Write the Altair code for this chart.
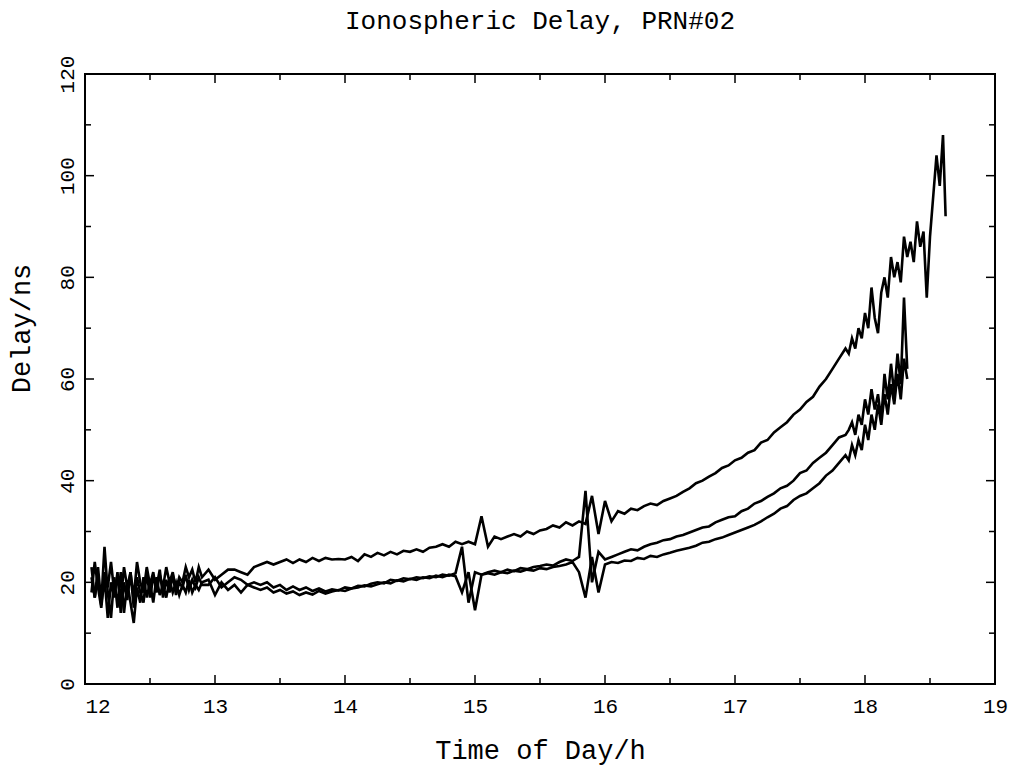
import altair as alt
import pandas as pd

# ---------------- data ----------------
# time grids (hours): finer where the record is noisy
T_EARLY = [
    12.050, 12.075, 12.100, 12.125, 12.150, 12.175, 12.200, 12.225, 12.250, 12.275,
    12.300, 12.325, 12.350, 12.375, 12.400, 12.425, 12.450, 12.475, 12.500, 12.525,
    12.550, 12.575, 12.600, 12.625, 12.650, 12.675, 12.700, 12.725, 12.750, 12.775,
    12.800, 12.825, 12.850, 12.875, 12.900,
]
T_MID = [
    12.95, 13.00,
    13.05, 13.10, 13.15, 13.20, 13.25, 13.30, 13.35, 13.40, 13.45, 13.50,
    13.55, 13.60, 13.65, 13.70, 13.75, 13.80, 13.85, 13.90, 13.95, 14.00,
    14.05, 14.10, 14.15, 14.20, 14.25, 14.30, 14.35, 14.40, 14.45, 14.50,
    14.55, 14.60, 14.65, 14.70, 14.75, 14.80, 14.85, 14.90, 14.95, 15.00,
    15.05, 15.10, 15.15, 15.20, 15.25, 15.30, 15.35, 15.40, 15.45, 15.50,
    15.55, 15.60, 15.65, 15.70, 15.75, 15.80, 15.85, 15.90, 15.95, 16.00,
    16.05, 16.10, 16.15, 16.20, 16.25, 16.30, 16.35, 16.40, 16.45, 16.50,
    16.55, 16.60, 16.65, 16.70, 16.75, 16.80, 16.85, 16.90, 16.95, 17.00,
    17.05, 17.10, 17.15, 17.20, 17.25, 17.30, 17.35, 17.40, 17.45, 17.50,
    17.55, 17.60, 17.65, 17.70, 17.75, 17.80, 17.85,
]
T_LATE_A = [
    17.875, 17.900, 17.925, 17.950, 17.975, 18.000, 18.025, 18.050, 18.075, 18.100,
    18.125, 18.150, 18.175, 18.200, 18.225, 18.250, 18.275, 18.300, 18.325, 18.350,
    18.375, 18.400, 18.425, 18.450, 18.475, 18.500, 18.525, 18.550, 18.575, 18.600,
    18.620,
]
T_LATE_BC = [
    17.875, 17.900, 17.925, 17.950, 17.975, 18.000, 18.025, 18.050, 18.075, 18.100,
    18.125, 18.150, 18.175, 18.200, 18.225, 18.250, 18.275, 18.300, 18.325,
]

# upper curve (longest pass)
A_EARLY = [
    23, 17, 21, 15.5, 22, 19, 24, 18, 21, 16.5,
    23, 19, 22, 17, 24, 20, 18, 23, 19.5, 22,
    18, 21.5, 19, 23, 20, 22, 18.5, 21, 20, 23,
    21, 22.5, 20, 23, 21,
]
A_MID = [
    22.5, 20.5,
    21.5, 22.5, 22.5, 22, 21.5, 23, 23.5, 24, 23.5, 24,
    24.5, 23.8, 24.5, 24, 24.8, 24.2, 24.8, 24.5, 24.6, 24.5,
    25, 24.2, 25.5, 25, 25.8, 25.3, 26, 25.5, 26.2, 26,
    26.5, 26, 26.8, 27, 27.5, 27, 28, 27.5, 28, 27.5,
    33, 27, 29, 28.5, 29, 29.5, 29, 30, 29.5, 30.2,
    30.5, 31.2, 30.8, 31.8, 31.2, 32, 31.5, 37, 29.5, 36,
    32, 34, 33.5, 34.5, 34.2, 35, 35.5, 35.2, 36, 36.5,
    37, 37.8, 38.5, 39.5, 40, 40.8, 41.5, 42.5, 43, 44,
    44.5, 45.5, 46, 47.5, 48, 49.5, 50.5, 51.5, 53, 54,
    55.5, 56.5, 58.5, 60, 62, 64, 66,
]
A_LATE = [
    65, 68, 66, 70, 68, 73, 70, 78, 72, 69,
    77, 80, 76, 84, 80, 83, 79, 88, 84, 87,
    83, 91, 86, 89, 76, 88, 96, 104, 98, 108,
    92,
]

# middle curve
B_EARLY = [
    18, 24, 19, 15, 21, 13, 20, 17, 22, 14,
    20, 16.5, 22, 15, 21, 18, 16, 22, 17, 21,
    19, 22.5, 17, 20.5, 18, 21.5, 17.5, 20, 19, 21.5,
    18.5, 20.5, 19, 21, 19.5,
]
B_MID = [
    19.5, 21,
    19, 20, 21, 20.5, 19.5, 20, 19.5, 20, 19, 19.5,
    18.5, 19.2, 18.5, 19, 18.3, 18.8, 18.2, 18.6, 18.4, 19,
    18.8, 19.3, 19.2, 19.7, 20, 19.8, 20.5, 20.3, 20.8, 20.6,
    21, 20.8, 21.2, 21, 21.5, 21.3, 21.8, 27, 16, 22,
    21.5, 22, 22.3, 22, 22.5, 22.2, 22.8, 22.6, 23, 23.2,
    23.5, 23.3, 24, 24.5, 24.2, 25, 38, 20, 26, 24.5,
    25, 25.5, 26, 26.5, 26.3, 27, 27.5, 27.8, 28.3, 28.5,
    29, 29.3, 29.8, 30.3, 30.8, 31, 31.8, 32.3, 32.8, 33,
    34, 34.5, 35.5, 36, 36.8, 37.5, 38.5, 39, 40, 41.5,
    42, 43.5, 44.5, 45.5, 47, 48.5, 49,
]
B_LATE = [
    50, 51.5, 49, 53, 51, 56, 53, 58, 54, 57,
    52, 61, 56, 63, 57, 65, 59, 76, 62,
]

# lower curve
C_EARLY = [
    21, 17, 23, 16, 27, 18, 13, 21, 15, 22,
    14, 20, 16, 12, 19, 16, 21, 17, 20, 16,
    21, 17.5, 19.5, 17, 20.5, 18, 20, 17.5, 19.5, 18,
    20.5, 18, 19.5, 18.5, 20,
]
C_MID = [
    20.5, 17.5,
    20, 18.5, 19.5, 18, 19.5, 19, 18.5, 19, 18, 18.5,
    17.8, 18.2, 17.5, 18, 17.6, 18.3, 17.8, 18.2, 18.5, 18.3,
    18.8, 19, 19.4, 19.2, 19.6, 20, 19.8, 20.4, 20.2, 20.7,
    20.5, 21, 20.8, 21.3, 21, 21.5, 21.2, 18, 22, 14.5,
    21.5, 21.8, 21.5, 22, 21.8, 22.3, 22.1, 22.5, 22.3, 22.8,
    22.6, 23, 23.2, 23.5, 24, 22, 17, 25, 18, 23.5,
    24, 23.8, 24.3, 24.2, 24.8, 24.6, 25.2, 25, 25.5, 25.8,
    26.2, 26.5, 26.8, 27.2, 27.8, 28, 28.5, 28.8, 29.3, 29.8,
    30.3, 30.8, 31.3, 32, 32.8, 33.5, 34.5, 35, 36.2, 37,
    37.5, 38.5, 39.5, 41, 42, 43.5, 45,
]
C_LATE = [
    44, 47, 45, 48, 46, 51, 48, 53, 50, 55,
    51, 57, 53, 59, 55, 61, 56, 64, 60,
]

# axis ticks
X_LABELS = [12, 13, 14, 15, 16, 17, 18, 19]
Y_LABELS = [0, 20, 40, 60, 80, 100, 120]
X_MAJOR = [13, 14, 15, 16, 17, 18]
X_MINOR = [12.5, 13.5, 14.5, 15.5, 16.5, 17.5, 18.5]
Y_MAJOR = [20, 40, 60, 80, 100]
Y_MINOR = [10, 30, 50, 70, 90, 110]

TITLE = "Ionospheric Delay, PRN#02"
X_TITLE = "Time of Day/h"
Y_TITLE = "Delay/ns"

# ---------------- build ----------------
W, H = 910, 610
FONT = "Liberation Mono"

series = [
    ("a", T_EARLY + T_MID + T_LATE_A, A_EARLY + A_MID + A_LATE),
    ("b", T_EARLY + T_MID + T_LATE_BC, B_EARLY + B_MID + B_LATE),
    ("c", T_EARLY + T_MID + T_LATE_BC, C_EARLY + C_MID + C_LATE),
]
frames = []
for name, tt, vv in series:
    assert len(tt) == len(vv), (name, len(tt), len(vv))
    frames.append(pd.DataFrame({"t": tt, "v": vv, "s": name}))
df = pd.concat(frames, ignore_index=True)

xscale = alt.Scale(domain=[12, 19], nice=False, zero=False)
yscale = alt.Scale(domain=[0, 120], nice=False, zero=False)

x_axis = alt.Axis(
    values=X_LABELS, format="d", grid=False, ticks=False, tickSize=0, domain=False,
    labelFont=FONT, labelFontSize=21, labelColor="black", labelPadding=11,
    labelFlush=False, labelOverlap=False,
    labelAlign={"condition": {"test": "datum.value == 12", "value": "left"}, "value": "center"},
    titleFont=FONT, titleFontSize=27, titleFontWeight="normal",
    titleColor="black", titlePadding=21,
)
y_axis = alt.Axis(
    values=Y_LABELS, format="d", grid=False, ticks=False, tickSize=0, domain=False,
    labelFont=FONT, labelFontSize=21, labelColor="black", labelPadding=8,
    labelAngle=270, labelAlign="center", labelBaseline="bottom",
    labelFlush=False, labelOverlap=False,
    titleFont=FONT, titleFontSize=27, titleFontWeight="normal",
    titleColor="black", titleAngle=270, titleX=-56, titleY=254,
    titleAlign="center", titleBaseline="alphabetic",
)

X_ENC = dict(field="t", type="quantitative", scale=xscale, axis=x_axis, title=X_TITLE)
Y_ENC = dict(field="v", type="quantitative", scale=yscale, axis=y_axis, title=Y_TITLE)

lines = alt.Chart(df).mark_line(color="black", strokeWidth=2.6).encode(
    x=alt.X(**X_ENC),
    y=alt.Y(**Y_ENC),
    detail="s:N",
)


def xticks(vals, length):
    d = pd.DataFrame({"t": vals})
    bottom = alt.Chart(d).mark_rule(color="black", strokeWidth=1.5).encode(
        x=alt.X(**X_ENC),
        y=alt.value(H), y2=alt.value(H - length),
    )
    top = alt.Chart(d).mark_rule(color="black", strokeWidth=1.5).encode(
        x=alt.X(**X_ENC),
        y=alt.value(0), y2=alt.value(length),
    )
    return [bottom, top]


def yticks(vals, length):
    d = pd.DataFrame({"v": vals})
    left = alt.Chart(d).mark_rule(color="black", strokeWidth=1.5).encode(
        y=alt.Y(**Y_ENC),
        x=alt.value(0), x2=alt.value(length),
    )
    right = alt.Chart(d).mark_rule(color="black", strokeWidth=1.5).encode(
        y=alt.Y(**Y_ENC),
        x=alt.value(W), x2=alt.value(W - length),
    )
    return [left, right]


layers = [lines] + xticks(X_MAJOR, 9) + xticks(X_MINOR, 6) + yticks(Y_MAJOR, 9) + yticks(Y_MINOR, 6)

chart = alt.layer(*layers).properties(
    width=W, height=H,
    background="white",
    autosize=alt.AutoSizeParams(type="none"),
    padding={"left": 85, "top": 74, "right": 16, "bottom": 88},
    title=alt.TitleParams(
        TITLE, font=FONT, fontSize=26, fontWeight="normal", color="black",
        anchor="middle", baseline="top", offset=21,
    ),
).configure_view(stroke="black", strokeWidth=2)

chart.save("out.html", embed_options={"renderer": "svg", "actions": False})
